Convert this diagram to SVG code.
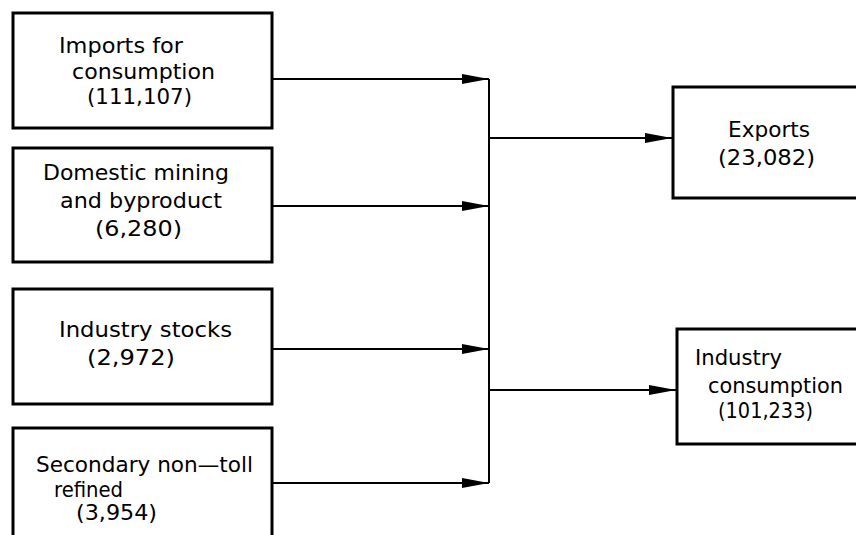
<svg xmlns="http://www.w3.org/2000/svg" width="856" height="535" viewBox="0 0 856 535">
<style>
.box{fill:#fff;stroke:#000;stroke-width:3}
.ln{fill:none;stroke:#000;stroke-width:2}
text{font-family:"DejaVu Sans","Liberation Sans",sans-serif;font-size:21px;fill:#000}
</style>
<defs>
<marker id="ah" markerUnits="userSpaceOnUse" markerWidth="28" markerHeight="12" refX="27" refY="5" orient="auto">
<path d="M0,0 L27,5 L0,10 z" fill="#000"/>
</marker>
</defs>
<rect width="856" height="535" fill="#fff"/>
<g id="connectors">
<line class="ln" x1="272" y1="79" x2="489" y2="79" marker-end="url(#ah)"/>
<line class="ln" x1="272" y1="206" x2="489" y2="206" marker-end="url(#ah)"/>
<line class="ln" x1="272" y1="349" x2="489" y2="349" marker-end="url(#ah)"/>
<line class="ln" x1="272" y1="483" x2="489" y2="483" marker-end="url(#ah)"/>
<line class="ln" x1="489" y1="79" x2="489" y2="483"/>
<line class="ln" x1="489" y1="138" x2="672" y2="138" marker-end="url(#ah)"/>
<line class="ln" x1="489" y1="390" x2="676" y2="390" marker-end="url(#ah)"/>
</g>
<g id="imports">
<rect class="box" x="13" y="13" width="259" height="115"/>
<text x="59" y="53" textLength="124" lengthAdjust="spacingAndGlyphs">Imports for</text>
<text x="72" y="79" textLength="143" lengthAdjust="spacingAndGlyphs">consumption</text>
<text x="87" y="104" textLength="105" lengthAdjust="spacingAndGlyphs">(111,107)</text>
</g>
<g id="domestic">
<rect class="box" x="13" y="148" width="259" height="114"/>
<text x="43" y="180" textLength="186" lengthAdjust="spacingAndGlyphs">Domestic mining</text>
<text x="60" y="208" textLength="162" lengthAdjust="spacingAndGlyphs">and byproduct</text>
<text x="95" y="236" textLength="87" lengthAdjust="spacingAndGlyphs">(6,280)</text>
</g>
<g id="stocks">
<rect class="box" x="13" y="289" width="259" height="115"/>
<text x="59" y="337" textLength="173" lengthAdjust="spacingAndGlyphs">Industry stocks</text>
<text x="87" y="365" textLength="88" lengthAdjust="spacingAndGlyphs">(2,972)</text>
</g>
<g id="secondary">
<rect class="box" x="13" y="428" width="259" height="120"/>
<text x="36" y="472" textLength="217" lengthAdjust="spacingAndGlyphs">Secondary non—toll</text>
<text x="54" y="497" textLength="69" lengthAdjust="spacingAndGlyphs">refined</text>
<text x="76" y="520" textLength="81" lengthAdjust="spacingAndGlyphs">(3,954)</text>
</g>
<g id="exports">
<rect class="box" x="673" y="87" width="190" height="111"/>
<text x="728" y="137" textLength="82" lengthAdjust="spacingAndGlyphs">Exports</text>
<text x="718" y="165" textLength="97" lengthAdjust="spacingAndGlyphs">(23,082)</text>
</g>
<g id="industry-consumption">
<rect class="box" x="677" y="329" width="190" height="115"/>
<text x="695" y="365" textLength="87" lengthAdjust="spacingAndGlyphs">Industry</text>
<text x="708" y="393" textLength="135" lengthAdjust="spacingAndGlyphs">consumption</text>
<text x="718" y="418" textLength="95" lengthAdjust="spacingAndGlyphs">(101,233)</text>
</g>
</svg>
